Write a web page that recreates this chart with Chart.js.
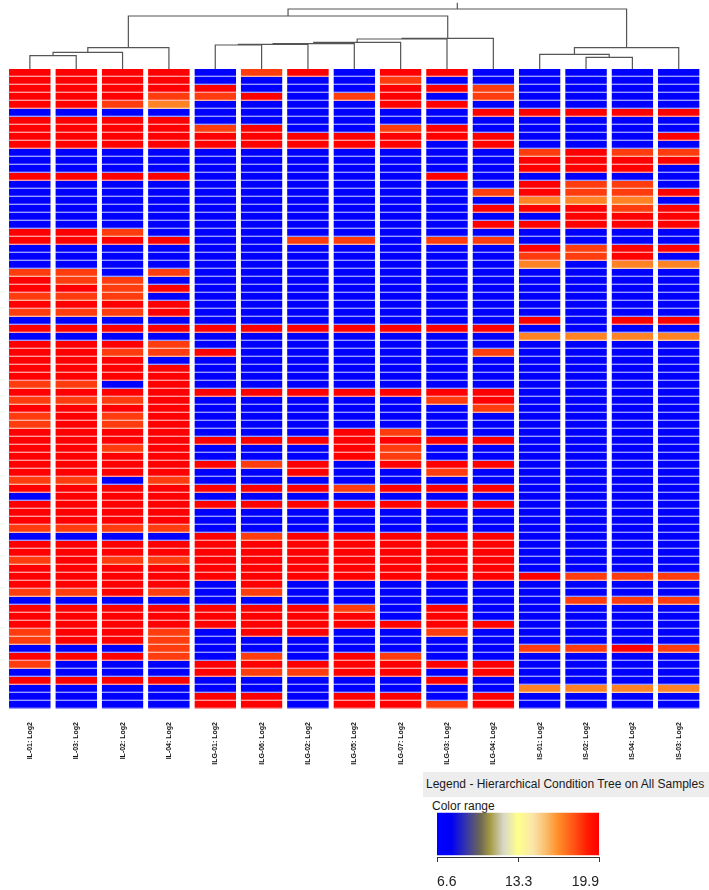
<!DOCTYPE html>
<html>
<head>
<meta charset="utf-8">
<script src="https://cdn.jsdelivr.net/npm/chart.js@4.4.0/dist/chart.umd.min.js"></script>
<style>
    html, body { margin: 0; padding: 0; background: #fff; }
    body { width: 709px; height: 890px; position: relative; overflow: hidden; font-family: "Liberation Sans", Arial, sans-serif; }
    canvas { position: absolute; }
    #tree { left: 0; top: 0; }
    #heat { left: 0; top: 69px; }
    #scale { left: 425px; top: 805px; }
    .legend-head { position: absolute; left: 423px; top: 772px; width: 286px; height: 25px; background: #ededed; font-size: 12px; line-height: 25px; color: #1a1a1a; padding-left: 3px; box-sizing: border-box; white-space: nowrap; }
    .legend-sub { position: absolute; left: 432px; top: 799px; font-size: 12px; color: #1a1a1a; }
</style>
</head>
<body>
<canvas id="tree" width="709" height="69"></canvas>
<canvas id="heat" width="709" height="701"></canvas>
<div class="legend-head">Legend - Hierarchical Condition Tree on All Samples</div>
<div class="legend-sub">Color range</div>
<canvas id="scale" width="190" height="85"></canvas>
<script>
// Sample order (left to right, as clustered)
const samples = ['IL-01: Log2', 'IL-03: Log2', 'IL-02: Log2', 'IL-04: Log2',
    'ILG-01: Log2', 'ILG-06: Log2', 'ILG-02: Log2', 'ILG-05: Log2', 'ILG-07: Log2', 'ILG-03: Log2', 'ILG-04: Log2',
    'IS-01: Log2', 'IS-02: Log2', 'IS-04: Log2', 'IS-03: Log2'];

// Log2 values per sample, one entry per entity (top row first)
const IL_01 = [19.9,19.9,19.9,19.9,19.9,6.6,19.9,19.9,19.9,19.9, 6.6,6.6,6.6,19.9,6.6,6.6,6.6,6.6,6.6,6.6,
    19.9,19.9,6.6,6.6,6.6,18.3,19.9,19.9,18.3,19.9, 18.3,6.6,19.9,6.6,19.9,19.9,19.9,19.9,19.9,18.3,
    19.9,18.3,19.9,18.3,18.3,19.9,19.9,19.9,19.9,19.9, 19.9,18.3,19.9,6.6,19.9,19.9,19.9,18.3,6.6,19.9,
    19.9,18.3,19.9,19.9,19.9,18.3,6.6,19.9,19.9,19.9, 18.3,18.3,6.6,19.9,18.3,6.6,19.9,6.6,6.6,6.6];
const IL_03 = [19.9,19.9,19.9,19.9,19.9,6.6,19.9,19.9,19.9,19.9, 6.6,6.6,6.6,19.9,6.6,6.6,6.6,6.6,6.6,6.6,
    19.9,19.9,6.6,6.6,6.6,18.3,18.3,19.9,18.3,19.9, 18.3,6.6,19.9,6.6,19.9,19.9,19.9,19.9,19.9,18.3,
    19.9,18.3,19.9,19.9,19.9,19.9,19.9,19.9,19.9,19.9, 19.9,18.3,19.9,19.9,19.9,19.9,19.9,18.3,6.6,19.9,
    19.9,19.9,19.9,19.9,19.9,18.3,6.6,19.9,19.9,19.9, 19.9,19.9,6.6,19.9,6.6,6.6,19.9,6.6,6.6,6.6];
const IL_02 = [19.9,19.9,19.9,19.9,18.3,6.6,19.9,19.9,19.9,19.9, 6.6,6.6,6.6,19.9,6.6,6.6,6.6,6.6,6.6,6.6,
    18.3,19.9,6.6,6.6,6.6,6.6,18.3,18.3,18.3,19.9, 18.3,6.6,19.9,6.6,19.9,18.3,19.9,19.9,19.9,6.6,
    19.9,18.3,19.9,18.3,18.3,19.9,19.9,18.3,19.9,19.9, 19.9,6.6,19.9,19.9,19.9,19.9,19.9,18.3,6.6,19.9,
    19.9,18.3,19.9,19.9,19.9,19.9,6.6,19.9,19.9,19.9, 19.9,19.9,6.6,19.9,6.6,6.6,19.9,6.6,6.6,6.6];
const IL_04 = [19.9,19.9,19.9,18.3,16.8,6.6,19.9,19.9,19.9,19.9, 6.6,6.6,6.6,19.9,6.6,6.6,6.6,6.6,6.6,6.6,
    6.6,19.9,6.6,6.6,6.6,18.3,6.6,19.9,6.6,19.9, 19.9,6.6,19.9,6.6,18.3,18.3,6.6,19.9,19.9,19.9,
    19.9,19.9,19.9,19.9,19.9,19.9,19.9,19.9,19.9,19.9, 19.9,18.3,19.9,19.9,19.9,19.9,19.9,18.3,6.6,19.9,
    19.9,18.3,19.9,19.9,19.9,18.3,6.6,19.9,19.9,19.9, 18.3,18.3,18.3,18.3,6.6,6.6,19.9,6.6,6.6,6.6];
const ILG_01 = [6.6,6.6,19.9,18.3,6.6,6.6,6.6,18.3,19.9,19.9, 6.6,6.6,6.6,6.6,6.6,6.6,6.6,6.6,6.6,6.6,
    6.6,6.6,6.6,6.6,6.6,6.6,6.6,6.6,6.6,6.6, 6.6,6.6,19.9,6.6,6.6,19.9,6.6,6.6,6.6,6.6,
    19.9,6.6,6.6,6.6,6.6,6.6,19.9,6.6,6.6,19.9, 6.6,6.6,19.9,6.6,19.9,6.6,6.6,6.6,19.9,19.9,
    19.9,19.9,19.9,19.9,6.6,6.6,6.6,19.9,19.9,19.9, 6.6,6.6,6.6,6.6,19.9,19.9,6.6,6.6,19.9,19.9];
const ILG_06 = [18.3,6.6,6.6,19.9,6.6,6.6,6.6,19.9,19.9,19.9, 6.6,6.6,6.6,6.6,6.6,6.6,6.6,6.6,6.6,6.6,
    6.6,6.6,6.6,6.6,6.6,6.6,6.6,6.6,6.6,6.6, 6.6,6.6,19.9,6.6,6.6,6.6,6.6,6.6,6.6,6.6,
    19.9,6.6,6.6,6.6,6.6,6.6,19.9,6.6,6.6,18.3, 6.6,6.6,19.9,6.6,19.9,6.6,6.6,6.6,18.3,19.9,
    19.9,19.9,19.9,19.9,19.9,18.3,6.6,19.9,19.9,19.9, 19.9,6.6,6.6,18.3,19.9,18.3,6.6,6.6,19.9,19.9];
const ILG_02 = [19.9,6.6,6.6,6.6,6.6,6.6,6.6,6.6,19.9,19.9, 6.6,6.6,6.6,6.6,6.6,6.6,6.6,6.6,6.6,6.6,
    6.6,18.3,6.6,6.6,6.6,6.6,6.6,6.6,6.6,6.6, 6.6,6.6,19.9,6.6,6.6,6.6,6.6,6.6,6.6,6.6,
    19.9,6.6,6.6,6.6,6.6,6.6,19.9,6.6,6.6,19.9, 19.9,6.6,19.9,6.6,19.9,6.6,6.6,6.6,19.9,19.9,
    19.9,19.9,19.9,19.9,6.6,6.6,6.6,19.9,19.9,19.9, 19.9,6.6,6.6,6.6,19.9,18.3,6.6,6.6,6.6,6.6];
const ILG_05 = [6.6,6.6,6.6,18.3,6.6,6.6,6.6,6.6,19.9,19.9, 6.6,6.6,6.6,6.6,6.6,6.6,6.6,6.6,6.6,6.6,
    6.6,18.3,6.6,6.6,6.6,6.6,6.6,6.6,6.6,6.6, 6.6,6.6,19.9,6.6,6.6,6.6,6.6,6.6,6.6,6.6,
    19.9,6.6,6.6,6.6,6.6,19.9,19.9,19.9,19.9,6.6, 6.6,6.6,18.3,6.6,19.9,6.6,6.6,6.6,19.9,19.9,
    19.9,19.9,19.9,19.9,6.6,6.6,6.6,18.3,19.9,19.9, 6.6,6.6,6.6,19.9,19.9,19.9,6.6,6.6,19.9,19.9];
const ILG_07 = [19.9,18.3,19.9,19.9,19.9,6.6,6.6,18.3,19.9,19.9, 6.6,6.6,6.6,6.6,6.6,6.6,6.6,6.6,6.6,6.6,
    6.6,6.6,6.6,6.6,6.6,6.6,6.6,6.6,6.6,6.6, 6.6,6.6,19.9,6.6,6.6,6.6,6.6,6.6,6.6,6.6,
    19.9,6.6,6.6,6.6,6.6,18.3,19.9,18.3,18.3,19.9, 6.6,6.6,19.9,6.6,19.9,6.6,6.6,6.6,19.9,19.9,
    19.9,19.9,19.9,19.9,6.6,6.6,6.6,6.6,6.6,19.9, 6.6,6.6,6.6,18.3,19.9,19.9,6.6,6.6,19.9,19.9];
const ILG_03 = [19.9,6.6,19.9,6.6,19.9,6.6,6.6,19.9,19.9,6.6, 6.6,6.6,6.6,19.9,6.6,6.6,6.6,6.6,6.6,6.6,
    6.6,18.3,6.6,6.6,6.6,6.6,6.6,6.6,6.6,6.6, 6.6,6.6,19.9,6.6,6.6,6.6,6.6,6.6,6.6,6.6,
    19.9,18.3,6.6,6.6,6.6,6.6,19.9,6.6,6.6,19.9, 18.3,6.6,19.9,6.6,19.9,6.6,6.6,6.6,19.9,19.9,
    19.9,19.9,19.9,19.9,6.6,6.6,6.6,19.9,19.9,19.9, 18.3,6.6,6.6,6.6,19.9,6.6,19.9,6.6,6.6,18.3];
const ILG_04 = [6.6,6.6,18.3,18.3,6.6,19.9,6.6,6.6,19.9,19.9, 6.6,6.6,6.6,6.6,6.6,18.3,6.6,19.9,6.6,19.9,
    6.6,18.3,6.6,6.6,6.6,6.6,6.6,6.6,6.6,6.6, 6.6,6.6,19.9,6.6,6.6,18.3,6.6,6.6,6.6,6.6,
    19.9,19.9,18.3,6.6,6.6,6.6,19.9,6.6,6.6,19.9, 6.6,6.6,19.9,6.6,19.9,6.6,6.6,6.6,19.9,19.9,
    19.9,19.9,19.9,19.9,6.6,6.6,6.6,6.6,6.6,19.9, 6.6,6.6,6.6,6.6,19.9,19.9,6.6,6.6,19.9,19.9];
const IS_01 = [6.6,6.6,6.6,6.6,6.6,19.9,6.6,6.6,6.6,6.6, 18.3,19.9,19.9,6.6,19.9,19.9,16.8,19.9,6.6,19.9,
    6.6,6.6,19.9,18.3,16.8,6.6,6.6,6.6,6.6,6.6, 6.6,19.9,6.6,16.8,6.6,6.6,6.6,6.6,6.6,6.6,
    6.6,6.6,6.6,6.6,6.6,6.6,6.6,6.6,6.6,6.6, 6.6,6.6,6.6,6.6,6.6,6.6,6.6,6.6,6.6,6.6,
    6.6,6.6,6.6,19.9,6.6,6.6,6.6,6.6,6.6,6.6, 6.6,6.6,18.3,6.6,6.6,6.6,6.6,16.8,6.6,6.6];
const IS_02 = [6.6,6.6,6.6,6.6,6.6,19.9,6.6,6.6,6.6,6.6, 19.9,19.9,19.9,6.6,18.3,18.3,16.8,19.9,19.9,19.9,
    6.6,6.6,18.3,18.3,6.6,6.6,6.6,6.6,6.6,6.6, 6.6,6.6,6.6,16.8,6.6,6.6,6.6,6.6,6.6,6.6,
    6.6,6.6,6.6,6.6,6.6,6.6,6.6,6.6,6.6,6.6, 6.6,6.6,6.6,6.6,6.6,6.6,6.6,6.6,6.6,6.6,
    6.6,6.6,6.6,18.3,6.6,6.6,18.3,6.6,6.6,6.6, 6.6,6.6,18.3,6.6,6.6,6.6,6.6,16.8,6.6,6.6];
const IS_04 = [6.6,6.6,6.6,6.6,6.6,19.9,6.6,6.6,6.6,6.6, 18.3,19.9,19.9,6.6,18.3,18.3,16.8,18.3,19.9,19.9,
    6.6,6.6,19.9,19.9,16.8,6.6,6.6,6.6,6.6,6.6, 6.6,19.9,6.6,16.8,6.6,6.6,6.6,6.6,6.6,6.6,
    6.6,6.6,6.6,6.6,6.6,6.6,6.6,6.6,6.6,6.6, 6.6,6.6,6.6,6.6,6.6,6.6,6.6,6.6,6.6,6.6,
    6.6,6.6,6.6,18.3,6.6,6.6,18.3,6.6,6.6,6.6, 6.6,6.6,19.9,6.6,6.6,6.6,6.6,16.8,6.6,6.6];
const IS_03 = [6.6,6.6,6.6,6.6,6.6,19.9,6.6,6.6,19.9,6.6, 18.3,19.9,6.6,6.6,6.6,19.9,6.6,19.9,19.9,19.9,
    6.6,6.6,19.9,6.6,16.8,6.6,6.6,6.6,6.6,6.6, 6.6,19.9,6.6,16.8,6.6,6.6,6.6,6.6,6.6,6.6,
    6.6,6.6,6.6,6.6,6.6,6.6,6.6,6.6,6.6,6.6, 6.6,6.6,6.6,6.6,6.6,6.6,6.6,6.6,6.6,6.6,
    6.6,6.6,6.6,18.3,6.6,6.6,18.3,6.6,6.6,6.6, 6.6,6.6,18.3,6.6,6.6,6.6,6.6,16.8,6.6,6.6];

// Condition tree: [child A, child B, merge distance]; numbers are leaf columns, 'mN' is the N-th merge
const treeMerges = [
    [0, 1, 13.3], ['m0', 2, 16.7], ['m1', 3, 21.3],
    [4, 5, 24], ['m3', 6, 24.7], ['m4', 7, 25.3], ['m5', 8, 26.7], ['m6', 9, 30], ['m7', 10, 30.7],
    ['m2', 'm8', 53],
    [12, 13, 11.7], [11, 'm10', 14.7], ['m11', 14, 21.3],
    ['m9', 'm12', 60]
];
const treeTop = 66.3;

// Colour range legend ticks
const scaleTicks = [6.6, 13.3, 19.9];

// ---- styling ----
const colorStops = [
    [0.00, [0, 0, 255]], [0.09, [0, 0, 245]], [0.19, [60, 60, 160]], [0.27, [110, 105, 80]],
    [0.33, [165, 155, 70]], [0.41, [215, 215, 200]], [0.50, [255, 255, 140]], [0.59, [250, 230, 170]],
    [0.67, [250, 190, 110]], [0.75, [255, 140, 40]], [0.85, [255, 80, 20]], [0.93, [255, 25, 0]],
    [1.00, [255, 0, 0]]
];
const plotLeft = 6.7, plotRight = 7.1;

function rgbAt(f) {
    f = Math.max(0, Math.min(1, f));
    for (let i = 1; i < colorStops.length; i++) {
        const [f1, c1] = colorStops[i];
        const [f0, c0] = colorStops[i - 1];
        if (f <= f1) {
            const t = (f - f0) / (f1 - f0);
            return c0.map((c, k) => Math.round(c + (c1[k] - c) * t));
        }
    }
    return colorStops[colorStops.length - 1][1];
}
function valueColor(v) {
    const c = rgbAt((v - scaleTicks[0]) / (scaleTicks[2] - scaleTicks[0]));
    return `rgb(${c[0]},${c[1]},${c[2]})`;
}
function rowLine(v) {
    const c = rgbAt((v - scaleTicks[0]) / (scaleTicks[2] - scaleTicks[0])).map(x => Math.round(x + (255 - x) * 0.62));
    return `rgb(${c[0]},${c[1]},${c[2]})`;
}

// ==========================================
// Heat map (one stacked dataset per row)
// ==========================================
const columns = [IL_01, IL_03, IL_02, IL_04, ILG_01, ILG_06, ILG_02, ILG_05, ILG_07, ILG_03, ILG_04, IS_01, IS_02, IS_04, IS_03];
const rowCount = IL_01.length;

const heatDatasets = [];
for (let r = 0; r < rowCount; r++) {
    heatDatasets.push({
        data: columns.map(() => 1),
        backgroundColor: columns.map(col => valueColor(col[r])),
        borderColor: columns.map(col => rowLine(col[r])),
        borderWidth: { top: 0, left: 0, right: 0, bottom: 1.3 },
        borderSkipped: false,
        barPercentage: 0.9,
        categoryPercentage: 1
    });
}

new Chart(document.getElementById('heat'), {
    type: 'bar',
    data: { labels: samples, datasets: heatDatasets },
    options: {
        responsive: false,
        animation: false,
        layout: { padding: { left: plotLeft, right: plotRight, top: 0, bottom: 0 } },
        scales: {
            x: {
                stacked: true,
                grid: { display: false },
                border: { display: false },
                afterFit: (scale) => { scale.height = 61; },
                ticks: {
                    autoSkip: false,
                    minRotation: 90,
                    maxRotation: 90,
                    padding: 5,
                    color: '#111',
                    font: { size: 7, weight: 'bold', family: "'Liberation Sans', Arial, sans-serif" }
                }
            },
            y: { stacked: true, display: false, reverse: true, min: 0, max: rowCount }
        },
        plugins: { legend: { display: false }, tooltip: { enabled: false } }
    }
});

// ==========================================
// Condition tree (dendrogram) above the columns
// ==========================================
const nodeX = {}, nodeH = {};
const treeDatasets = [];
const lineStyle = { showLine: true, borderColor: '#555', borderWidth: 1.2, pointRadius: 0, tension: 0, clip: false };

treeMerges.forEach(([a, b, h], i) => {
    const xa = typeof a === 'number' ? a : nodeX[a];
    const xb = typeof b === 'number' ? b : nodeX[b];
    const ha = typeof a === 'number' ? 0 : nodeH[a];
    const hb = typeof b === 'number' ? 0 : nodeH[b];
    nodeX['m' + i] = (xa + xb) / 2;
    nodeH['m' + i] = h;
    treeDatasets.push({
        ...lineStyle,
        data: [{ x: xa, y: ha }, { x: xa, y: h }, { x: xb, y: h }, { x: xb, y: hb }]
    });
});
const rootId = 'm' + (treeMerges.length - 1);
treeDatasets.push({
    ...lineStyle,
    data: [{ x: nodeX[rootId], y: nodeH[rootId] }, { x: nodeX[rootId], y: treeTop }]
});

new Chart(document.getElementById('tree'), {
    type: 'scatter',
    data: { datasets: treeDatasets },
    options: {
        responsive: false,
        animation: false,
        layout: { padding: { left: plotLeft, right: plotRight, top: 0, bottom: 0 } },
        scales: {
            x: { type: 'linear', display: false, min: -0.5, max: samples.length - 0.5 },
            y: { type: 'linear', display: false, min: 0, max: 69 }
        },
        plugins: { legend: { display: false }, tooltip: { enabled: false } }
    }
});

// ==========================================
// Colour range legend
// ==========================================
new Chart(document.getElementById('scale'), {
    type: 'bar',
    data: {
        labels: [''],
        datasets: [{
            data: [[scaleTicks[0], scaleTicks[2]]],
            barPercentage: 1,
            categoryPercentage: 0.92,
            backgroundColor: (ctx) => {
                const chart = ctx.chart;
                if (!chart.chartArea) return 'blue';
                const xs = chart.scales.x;
                const g = chart.ctx.createLinearGradient(xs.getPixelForValue(scaleTicks[0]), 0, xs.getPixelForValue(scaleTicks[2]), 0);
                colorStops.forEach(([f, c]) => g.addColorStop(f, `rgb(${c[0]},${c[1]},${c[2]})`));
                return g;
            }
        }]
    },
    options: {
        indexAxis: 'y',
        responsive: false,
        animation: false,
        layout: { padding: { left: 7, right: 16, top: 6, bottom: 0 } },
        scales: {
            x: {
                type: 'linear',
                min: scaleTicks[0],
                max: scaleTicks[2],
                afterBuildTicks: (scale) => { scale.ticks = scaleTicks.map(v => ({ value: v })); },
                afterFit: (scale) => { scale.height = 33; },
                grid: { drawOnChartArea: false, drawTicks: true, tickLength: 5, tickColor: '#333' },
                border: { display: true, color: '#333' },
                ticks: {
                    align: 'inner',
                    maxRotation: 0,
                    padding: 12,
                    color: '#222',
                    font: { size: 14, family: "'Liberation Sans', Arial, sans-serif" },
                    callback: (v) => Number(v).toFixed(1)
                }
            },
            y: { display: false }
        },
        plugins: { legend: { display: false }, tooltip: { enabled: false } }
    }
});
</script>
</body>
</html>
